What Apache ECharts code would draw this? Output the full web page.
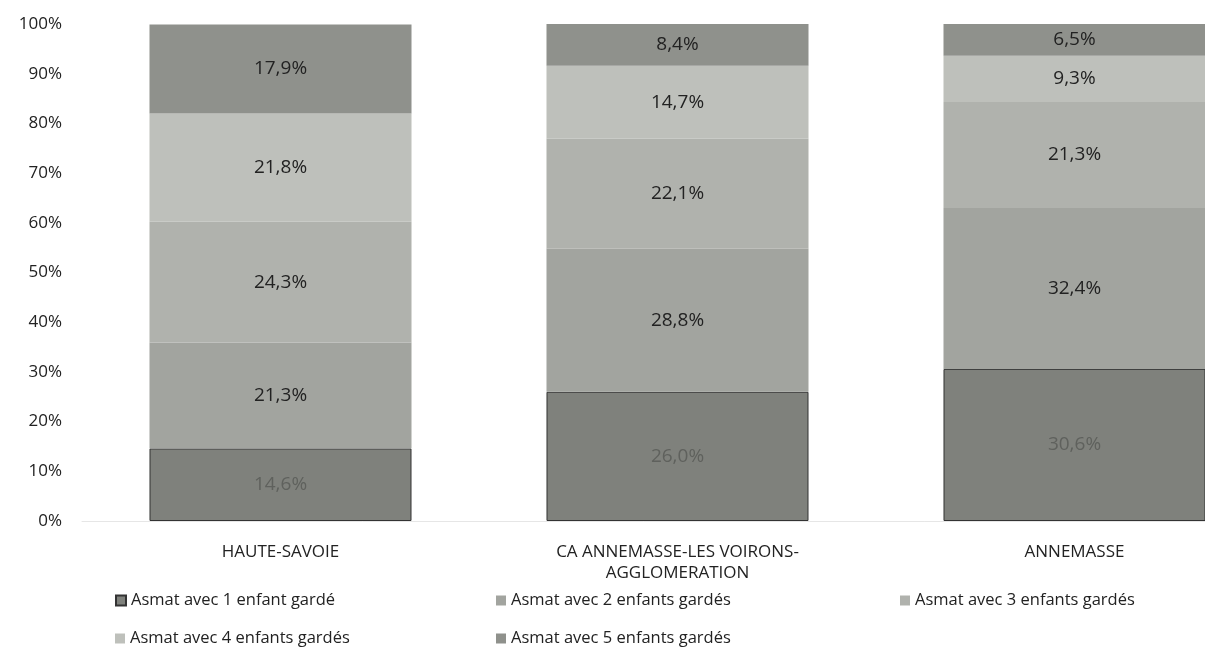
<!DOCTYPE html>
<html><head><meta charset="utf-8">
<script src="https://cdn.jsdelivr.net/npm/echarts@6/dist/echarts.min.js"></script>
<style>html,body{margin:0;padding:0;background:#fff}#c{width:1205px;height:652px}</style>
</head><body><div id="c"></div>
<script>
const categories = ['HAUTE-SAVOIE', 'CA ANNEMASSE-LES VOIRONS-\nAGGLOMERATION', 'ANNEMASSE'];
const seriesNames = ['Asmat avec 1 enfant gardé', 'Asmat avec 2 enfants gardés', 'Asmat avec 3 enfants gardés', 'Asmat avec 4 enfants gardés', 'Asmat avec 5 enfants gardés'];
const enfant1 = [14.6, 26.0, 30.6];
const enfant2 = [21.3, 28.8, 32.4];
const enfant3 = [24.3, 22.1, 21.3];
const enfant4 = [21.8, 14.7, 9.3];
const enfant5 = [17.9, 8.4, 6.5];
const yTicks = [0, 10, 20, 30, 40, 50, 60, 70, 80, 90, 100];

const values = [enfant1, enfant2, enfant3, enfant4, enfant5];
const colors = ['#7f817c', '#a2a49f', '#b0b2ad', '#bec0bb', '#8f918c'];
const labelColors = ['#5f615d', '#222', '#222', '#222', '#222'];
const fmt = v => v.toFixed(1).replace('.', ',') + '%';

const series = values.map((vals, i) => ({
  name: seriesNames[i],
  type: 'bar',
  stack: 'total',
  barCategoryGap: '34%',
  data: vals,
  itemStyle: { color: colors[i], borderColor: i === 0 ? '#333' : 'transparent', borderWidth: i === 0 ? 1 : 0 },
  label: {
    show: true, position: 'inside',
    formatter: p => fmt(p.value),
    fontFamily: 'Open Sans', fontSize: 19, color: labelColors[i]
  },
  emphasis: { disabled: true }
}));

const legendPos = [[110, 587], [491, 587], [895, 587], [110, 625], [491, 625]];
const legends = seriesNames.map((n, i) => ({
  left: legendPos[i][0], top: legendPos[i][1],
  data: [n], itemWidth: 10, itemHeight: 10, icon: 'rect',
  textStyle: { fontFamily: 'Open Sans', fontSize: 16.5, color: '#222' },
  selectedMode: false
}));

const chart = echarts.init(document.getElementById('c'));
chart.setOption({
  animation: false,
  backgroundColor: '#fff',
  grid: { left: 82, width: 1191, top: 24, bottom: 131, containLabel: false, outerBoundsMode: 'none' },
  legend: legends,
  xAxis: {
    type: 'category', data: categories,
    axisLine: { show: true, lineStyle: { color: '#e6e6e6', width: 1 } },
    axisTick: { show: false },
    axisLabel: { fontFamily: 'Open Sans', fontSize: 17, color: '#222', margin: 21, lineHeight: 21 }
  },
  yAxis: {
    type: 'value', min: yTicks[0], max: yTicks[yTicks.length - 1], interval: 10,
    axisLine: { show: false }, axisTick: { show: false },
    splitLine: { show: false },
    axisLabel: { formatter: v => v + '%', fontFamily: 'Open Sans', fontSize: 17, color: '#222', margin: 20 }
  },
  series: series
});
</script>
</body></html>
